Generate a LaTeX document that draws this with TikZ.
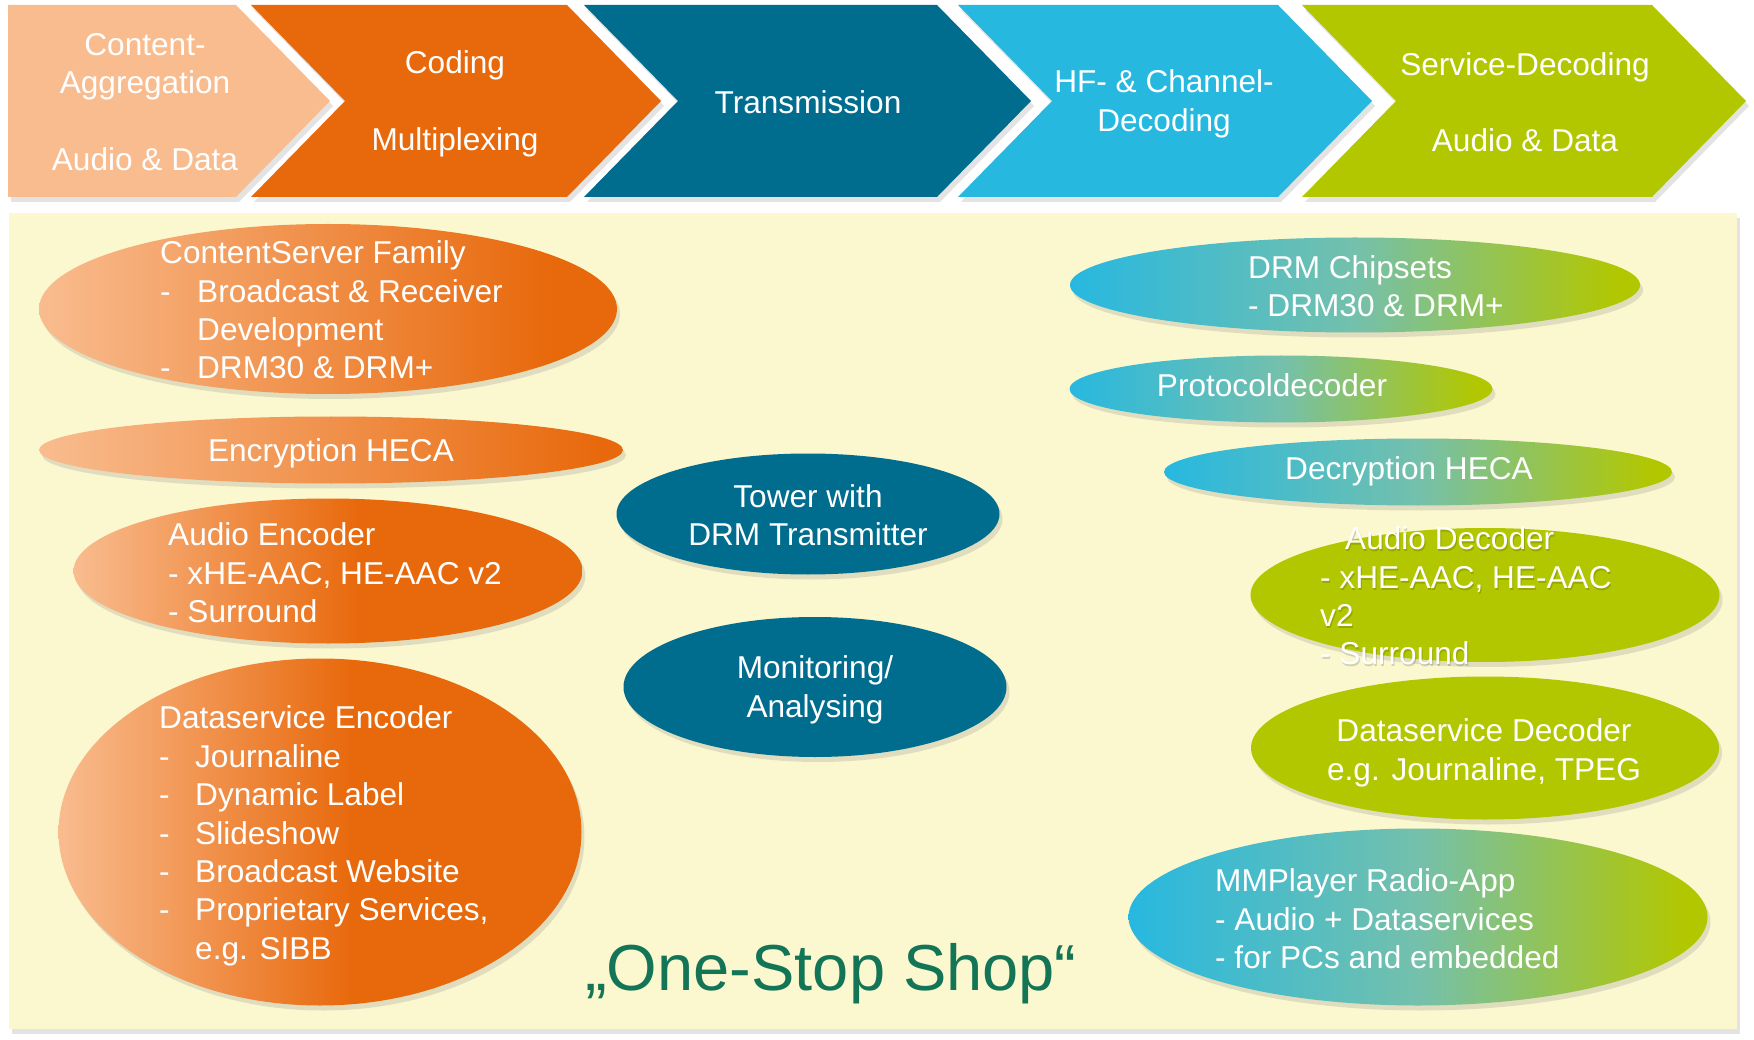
\documentclass[tikz,border=0pt]{standalone}
\usepackage{fontspec}
\setmainfont{Liberation Sans}
\usetikzlibrary{shapes.geometric,shadows}
\definecolor{cPeach}{HTML}{F9BC8F}
\definecolor{cOrange}{HTML}{E8690C}
\definecolor{cTeal}{HTML}{006D8F}
\definecolor{cSky}{HTML}{27B8E0}
\definecolor{cLime}{HTML}{B2C700}
\definecolor{cMid}{HTML}{74C0AC}
\definecolor{cPanel}{HTML}{FBF8D0}
\definecolor{cGreen}{HTML}{137556}
\pgfdeclarehorizontalshading{shCS}{100bp}{color(0bp)=(cPeach); color(25bp)=(cPeach); color(69bp)=(cOrange); color(100bp)=(cOrange)}
\pgfdeclarehorizontalshading{shENC}{100bp}{color(0bp)=(cPeach); color(25bp)=(cPeach); color(73bp)=(cOrange); color(100bp)=(cOrange)}
\pgfdeclarehorizontalshading{shAE}{100bp}{color(0bp)=(cPeach); color(25bp)=(cPeach); color(53bp)=(cOrange); color(100bp)=(cOrange)}
\pgfdeclarehorizontalshading{shBL}{100bp}{color(0bp)=(cSky); color(25bp)=(cSky); color(50bp)=(cMid); color(73bp)=(cLime); color(100bp)=(cLime)}
\tikzset{
  shad/.style={drop shadow={opacity=0.22, shadow xshift=3pt, shadow yshift=-5pt}},
  ell/.style={ellipse, inner sep=0pt, draw=none, shad},
  chevtxt/.style={text=white, font=\fontsize{31.6}{38.4}\selectfont, inner sep=0pt, align=center},
  txt/.style={text=white, font=\fontsize{31.6}{38.4}\selectfont, inner sep=0pt, align=left, anchor=west},
  ctxt/.style={text=white, font=\fontsize{31.6}{38.4}\selectfont, inner sep=0pt, align=center},
}
\newcommand{\dsh}[1]{\makebox[#1][l]{-}}
\begin{document}
\begin{tikzpicture}[x=1pt,y=-1pt]
\useasboundingbox (0,0) rectangle (1754,1040);
% panel
\fill[cPanel, shad] (9,213) rectangle (1737,1029);
% chevrons
\fill[cPeach, shad] (8,5) -- (236,5) -- (330,101) -- (236,197) -- (8,197) -- cycle;
\fill[cOrange, shad] (251,5) -- (567,5) -- (661,101) -- (567,197) -- (251,197) -- (345,101) -- cycle;
\fill[cTeal, shad] (584,5) -- (937,5) -- (1031,101) -- (937,197) -- (584,197) -- (678,101) -- cycle;
\fill[cSky, shad] (958,5) -- (1278,5) -- (1372,101) -- (1278,197) -- (958,197) -- (1052,101) -- cycle;
\fill[cLime, shad] (1302,5) -- (1652,5) -- (1746,101) -- (1652,197) -- (1302,197) -- (1396,101) -- cycle;
\node[chevtxt] (c1) at (145,102) {Content-\\Aggregation\\[38pt]Audio \& Data};
\node[chevtxt] (c2) at (455,104) {Coding\\[38pt]Multiplexing};
\node[chevtxt] (c3) at (808,102) {Transmission};
\node[chevtxt] (c4) at (1164,104) {HF- \& Channel-\\Decoding};
\node[chevtxt] (c5) at (1525,102) {Service-Decoding\\[38pt]Audio \& Data};
% ellipses
\node[ell, shade, shading=shCS, minimum width=578pt, minimum height=170pt] (e1) at (328,309) {};
\node[ell, shade, shading=shENC, minimum width=584pt, minimum height=67pt] (e2) at (331,450) {};
\node[ell, shade, shading=shAE, minimum width=509pt, minimum height=145pt] (e3) at (328,571) {};
\node[ell, shade, shading=shAE, minimum width=523pt, minimum height=347pt] (e4) at (320,832) {};
\node[ell, fill=cTeal, minimum width=383pt, minimum height=121pt] (e5) at (808,514) {};
\node[ell, fill=cTeal, minimum width=383pt, minimum height=140pt] (e6) at (815,687) {};
\node[ell, shade, shading=shBL, minimum width=570pt, minimum height=95pt] (e7) at (1355,285) {};
\node[ell, shade, shading=shBL, minimum width=423pt, minimum height=67pt] (e8) at (1281,389) {};
\node[ell, shade, shading=shBL, minimum width=508pt, minimum height=67pt] (e9) at (1418,472) {};
\node[ell, fill=cLime, minimum width=469pt, minimum height=134pt] (e10) at (1485,595) {};
\node[ell, fill=cLime, minimum width=468pt, minimum height=143pt] (e11) at (1485,748) {};
\node[ell, shade, shading=shBL, minimum width=579pt, minimum height=177pt] (e12) at (1418,917) {};
% texts
\node[txt] (t1) at (160,310) {ContentServer Family\\\dsh{37pt}Broadcast \& Receiver\\\hspace*{37pt}Development\\\dsh{37pt}DRM30 \& DRM+};
\node[ctxt] (t2) at (331,453) {Encryption HECA};
\node[txt] (t3) at (168,573) {Audio Encoder\\- xHE-AAC, HE-AAC v2\\- Surround};
\node[txt] (t4) at (159,836) {Dataservice Encoder\\\dsh{36pt}Journaline\\\dsh{36pt}Dynamic Label\\\dsh{36pt}Slideshow\\\dsh{36pt}Broadcast Website\\\dsh{36pt}Proprietary Services,\\\hspace*{36pt}e.g. SIBB};
\node[ctxt] (t5) at (808,515) {Tower with\\DRM Transmitter};
\node[ctxt] (t6) at (815,690) {Monitoring/\\Analysing};
\node[txt] (t7) at (1248,286) {DRM Chipsets\\- DRM30 \& DRM+};
\node[ctxt] (t8) at (1272,385) {Protocoldecoder};
\node[ctxt] (t9) at (1409,471) {Decryption HECA};
\node[txt, text=black, opacity=0.16] (t10s) at (1321,598) {\hspace*{25pt}Audio Decoder\\- xHE-AAC, HE-AAC\\v2\\- Surround};
\node[txt] (t10) at (1320,596) {\hspace*{25pt}Audio Decoder\\- xHE-AAC, HE-AAC\\v2\\- Surround};
\node[ctxt] (t11) at (1484,753) {Dataservice Decoder\\e.g. Journaline, TPEG};
\node[txt] (t12) at (1215,919) {MMPlayer Radio-App\\- Audio + Dataservices\\- for PCs and embedded};
\node[text=cGreen, font=\fontsize{65}{78}\selectfont, inner sep=0pt] (t13) at (831,974) {„One-Stop Shop“};
\end{tikzpicture}
\end{document}
